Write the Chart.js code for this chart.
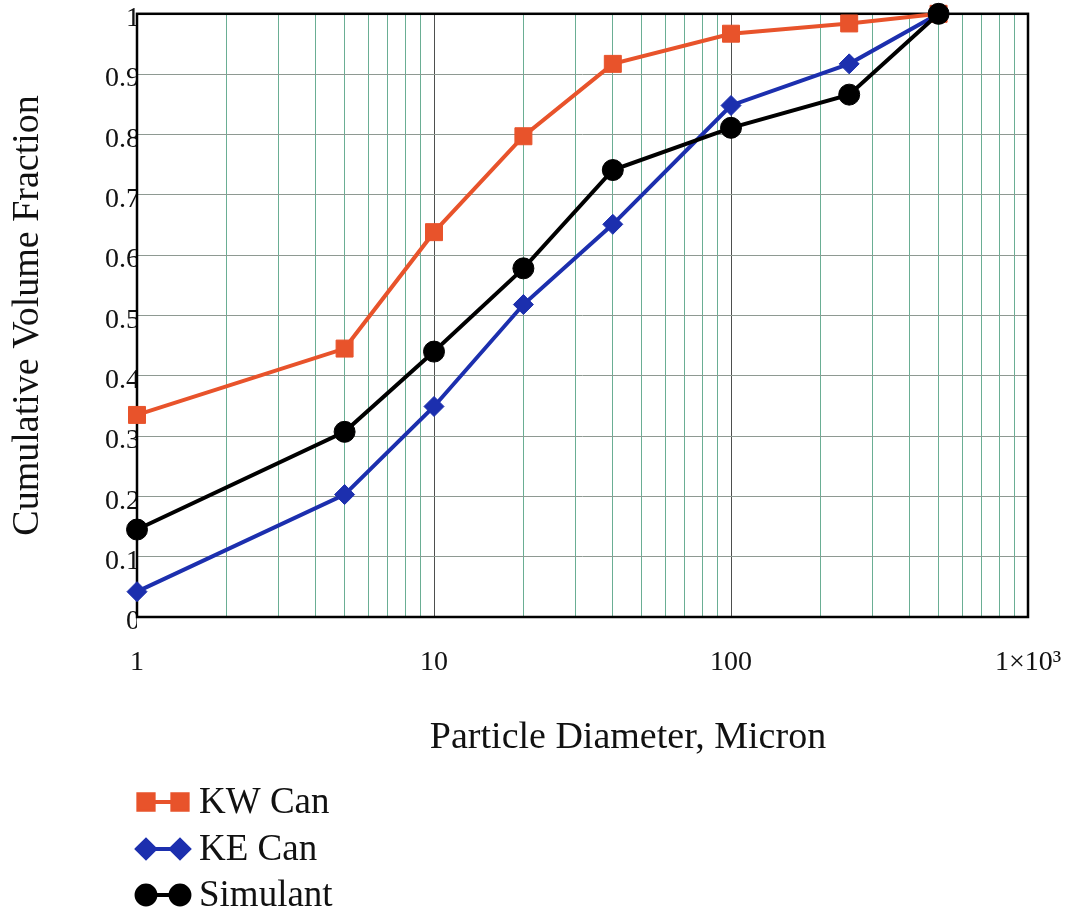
<!DOCTYPE html>
<html>
<head>
<meta charset="utf-8">
<script src="https://cdn.jsdelivr.net/npm/chart.js@4/dist/chart.umd.min.js"></script>
<style>
  html, body { margin: 0; padding: 0; background: #fff; }
  canvas { display: block; }
</style>
</head>
<body>
<canvas id="psd" width="1065" height="915"></canvas>
<script>
// Particle size distributions: cumulative volume fraction vs. diameter (micron)
const diameters = [1, 5, 10, 20, 40, 100, 250, 500];
const kwCan    = [0.335, 0.445, 0.638, 0.797, 0.917, 0.967, 0.984, 1.0];
const keCan    = [0.042, 0.203, 0.349, 0.518, 0.651, 0.848, 0.917, 1.0];
const simulant = [0.145, 0.307, 0.440, 0.578, 0.741, 0.811, 0.866, 1.0];

const seriesNames = ['KW Can', 'KE Can', 'Simulant'];
const xTickLabels = { 1: '1', 10: '10', 100: '100', 1000: '1\u00d710\u00b3' };
const yTickLabels = ['0', '0.1', '0.2', '0.3', '0.4', '0.5', '0.6', '0.7', '0.8', '0.9', '1'];

const SERIF = '"Liberation Serif", "DejaVu Serif", serif';
const COLORS = { kw: '#e8532b', ke: '#1c2fae', sim: '#000000' };

// log grid: 1..9 in each decade, plus the closing 1000
const logGrid = [];
[1, 10, 100].forEach(d => { for (let k = 1; k <= 9; k++) logGrid.push(d * k); });
logGrid.push(1000);

const toPoints = ys => diameters.map((x, i) => ({ x, y: ys[i] }));

const datasets = [
  { label: seriesNames[0], data: toPoints(kwCan), borderColor: COLORS.kw, backgroundColor: COLORS.kw,
    pointStyle: 'rect', pointRadius: 12, pointBorderWidth: 1, order: 3 },
  { label: seriesNames[1], data: toPoints(keCan), borderColor: COLORS.ke, backgroundColor: COLORS.ke,
    pointStyle: 'rectRot', pointRadius: 10, pointBorderWidth: 1, order: 2 },
  { label: seriesNames[2], data: toPoints(simulant), borderColor: COLORS.sim, backgroundColor: COLORS.sim,
    pointStyle: 'circle', pointRadius: 10.5, pointBorderWidth: 1, order: 1 }
].map(d => Object.assign({ borderWidth: 4, tension: 0, clip: false, pointHoverRadius: d.pointRadius }, d));

// frame around the plot, x-axis title and the line+marker legend
const decorations = {
  id: 'decorations',
  beforeDatasetsDraw(chart) {
    const { ctx, chartArea: a } = chart;
    ctx.save();
    ctx.strokeStyle = '#000';
    ctx.lineWidth = 2.5;
    ctx.strokeRect(a.left, a.top, a.right - a.left, a.bottom - a.top);
    ctx.restore();
  },
  afterDraw(chart) {
    const { ctx } = chart;
    ctx.save();
    ctx.fillStyle = '#111';
    ctx.font = '38px ' + SERIF;
    ctx.textAlign = 'center';
    ctx.textBaseline = 'middle';
    ctx.fillText('Particle Diameter, Micron', 628, 738);

    const rows = [802, 849, 895];
    ctx.textAlign = 'left';
    datasets.forEach((ds, i) => {
      const y = rows[i];
      ctx.strokeStyle = ds.borderColor;
      ctx.lineWidth = 4;
      ctx.beginPath();
      ctx.moveTo(146, y);
      ctx.lineTo(180, y);
      ctx.stroke();
      ctx.fillStyle = ds.backgroundColor;
      const opts = { pointStyle: ds.pointStyle, radius: ds.pointRadius * 0.9, borderWidth: 1, rotation: 0 };
      Chart.helpers.drawPoint(ctx, opts, 146, y);
      ctx.fill();
      Chart.helpers.drawPoint(ctx, opts, 180, y);
      ctx.fill();
      ctx.fillStyle = '#111';
      ctx.font = '37px ' + SERIF;
      ctx.fillText(ds.label, 199, y + 1);
    });
    ctx.restore();
  }
};

new Chart(document.getElementById('psd'), {
  type: 'line',
  data: { datasets },
  plugins: [decorations],
  options: {
    responsive: false,
    animation: false,
    events: [],
    layout: { padding: { left: 0, top: 12, right: 37, bottom: 0 } },
    plugins: { legend: { display: false }, tooltip: { enabled: false } },
    scales: {
      x: {
        type: 'logarithmic',
        min: 1,
        max: 1000,
        afterBuildTicks: scale => { scale.ticks = logGrid.map(v => ({ value: v })); },
        afterFit: scale => { scale.height = 298; scale.paddingLeft = 0; scale.paddingRight = 0; },
        ticks: {
          autoSkip: false,
          maxRotation: 0,
          padding: 29,
          color: '#111',
          font: { family: SERIF, size: 28 },
          callback: v => xTickLabels[v] || ''
        },
        grid: {
          drawTicks: false,
          lineWidth: 1,
          color: c => ([1, 10, 100, 1000].includes(c.tick && c.tick.value) ? '#4d4f4e' : '#6aae94')
        },
        border: { display: false }
      },
      y: {
        min: 0,
        max: 1,
        afterBuildTicks: scale => { scale.ticks = yTickLabels.map((t, i) => ({ value: i / 10 })); },
        afterFit: scale => { scale.width = 137; },
        ticks: {
          autoSkip: false,
          padding: -3,
          labelOffset: 5,
          color: '#111',
          font: { family: SERIF, size: 28 },
          callback: (v, i) => yTickLabels[i]
        },
        grid: { drawTicks: false, lineWidth: 1, color: '#8e9992' },
        border: { display: false },
        title: {
          display: true,
          text: 'Cumulative Volume Fraction',
          color: '#111',
          font: { family: SERIF, size: 38 },
          padding: { top: 5, bottom: 0 }
        }
      }
    }
  }
});
</script>
</body>
</html>
